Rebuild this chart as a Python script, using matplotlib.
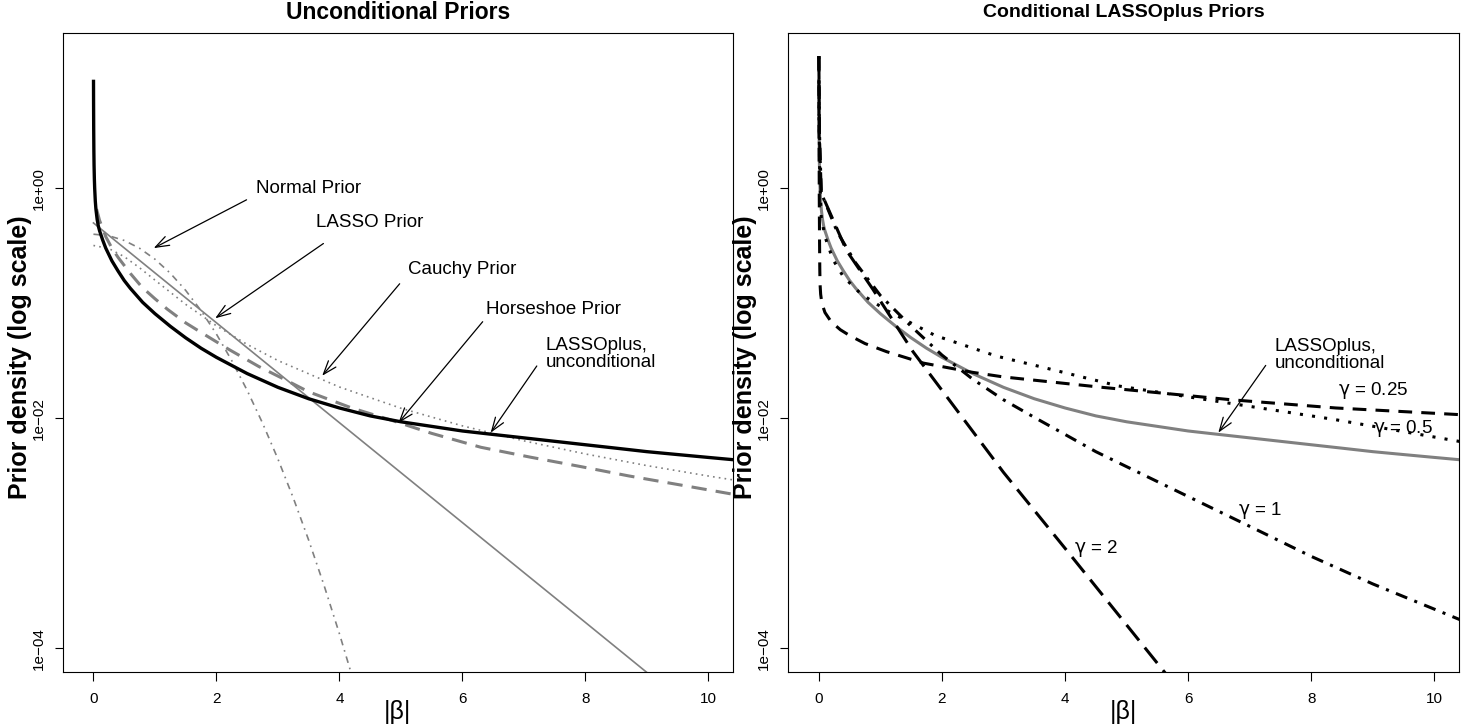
import numpy as np
import matplotlib.pyplot as plt
from matplotlib.ticker import NullLocator

plt.rcParams['font.family'] = ['Liberation Sans', 'DejaVu Sans']

# ---- left panel: unconditional priors (|beta|, density) ----
x_lassoplus = [0.001, 0.002, 0.004, 0.007, 0.01, 0.015, 0.02, 0.03, 0.04, 0.06, 0.08, 0.1, 0.15,
               0.2, 0.3, 0.4, 0.5, 0.6, 0.8, 1.0, 1.25, 1.5, 1.75, 2.0, 2.5, 3.0, 3.5, 4.0, 4.5,
               5.0, 5.5, 6.0, 6.5, 7.0, 7.5, 8.0, 8.5, 9.0, 9.5, 10.0, 10.5]
d_lassoplus = [8.51, 5.62, 3.31, 2.09, 1.585, 1.202, 1.0, 0.776, 0.661, 0.537, 0.468, 0.427, 0.355,
               0.302, 0.234, 0.191, 0.158, 0.135, 0.102, 0.0813, 0.0631, 0.0501, 0.0407, 0.0339,
               0.0245, 0.0186, 0.0148, 0.0123, 0.0105, 0.00933, 0.00851, 0.00776, 0.00724, 0.00676,
               0.00631, 0.00589, 0.0055, 0.00513, 0.00484, 0.00457, 0.00432]

x_horseshoe = [0.05, 0.1, 0.2, 0.3, 0.4, 0.6, 0.79, 1.0, 1.2, 1.5, 1.77, 2.2, 2.69, 3.1, 3.5,
               4.2, 4.8, 5.5, 6.3, 7.1, 7.93, 8.7, 9.55, 10.5]
d_horseshoe = [0.66, 0.525, 0.38, 0.302, 0.251, 0.182, 0.138, 0.1096, 0.089, 0.0676, 0.055, 0.0398,
               0.0282, 0.0219, 0.017, 0.0123, 0.0098, 0.0074, 0.0056, 0.0046, 0.0038, 0.00316,
               0.00263, 0.00214]

x_normal = [0, 0.25, 0.5, 0.75, 1, 1.25, 1.5, 1.75, 2, 2.25, 2.5, 2.75, 3, 3.25, 3.5, 3.75, 4, 4.25, 4.5]
d_normal = [0.3989, 0.3867, 0.3521, 0.3011, 0.2420, 0.1826, 0.1295, 0.0863, 0.0540, 0.0317, 0.0175,
            0.00909, 0.00443, 0.00203, 0.000873, 0.000353, 0.000134, 0.0000479, 0.0000160]

x_lasso = [0, 1, 2, 3, 4, 5, 6, 7, 8, 9, 10, 10.5]
d_lasso = [0.5, 0.1839, 0.0677, 0.0249, 0.00916, 0.00337, 0.00124, 0.000456, 0.000168,
           0.0000617, 0.0000227, 0.0000138]

x_cauchy = [0, 0.25, 0.5, 0.75, 1, 1.5, 2, 2.5, 3, 4, 5, 6, 7, 8, 9, 10, 10.5]
d_cauchy = [0.3183, 0.2996, 0.2546, 0.2037, 0.1592, 0.0979, 0.0637, 0.0439, 0.0318, 0.01872,
            0.01224, 0.0086, 0.00637, 0.0049, 0.00388, 0.00315, 0.00286]

# ---- right panel: conditional LASSOplus priors ----
x_g025 = [0.001, 0.004, 0.008, 0.012, 0.016, 0.02, 0.03, 0.05, 0.1, 0.2, 0.35, 0.5, 0.75, 1.1,
          1.7, 2.5, 3.0, 4.6, 6.7, 8.4, 10.5]
d_g025 = [14.1, 3.16, 0.794, 0.355, 0.2, 0.148, 0.12, 0.1, 0.0832, 0.0692, 0.0589, 0.0525, 0.0447,
          0.038, 0.0302, 0.0251, 0.0229, 0.0186, 0.0145, 0.0123, 0.0107]

x_g05 = [0.001, 0.005, 0.015, 0.04, 0.1, 0.23, 0.4, 0.69, 1.1, 1.89, 2.89, 3.59, 4.87, 6.2, 8.36, 10.5]
d_g05 = [14.1, 3.98, 1.26, 0.562, 0.38, 0.24, 0.17, 0.12, 0.087, 0.0525, 0.0347, 0.0282,
         0.0191, 0.0148, 0.0098, 0.00617]

x_g1 = [0.001, 0.01, 0.04, 0.3, 0.6, 1.0, 1.5, 2.0, 2.5, 3.0, 3.5, 4.0, 4.5, 5.0, 6.0, 7.0,
        8.0, 9.0, 10.0, 10.5]
d_g1 = [14.1, 3.16, 0.912, 0.417, 0.224, 0.117, 0.0631, 0.0355, 0.0219, 0.0145, 0.0102, 0.00724,
        0.00513, 0.0038, 0.00209, 0.00115, 0.00063, 0.000363, 0.000219, 0.00017]

x_g2 = [0.001, 0.01, 0.04, 0.45, 0.88, 1.53, 3.0, 4.03, 5.53, 6.0]
d_g2 = [14.1, 2.82, 0.912, 0.288, 0.132, 0.038, 0.00339, 0.000708, 0.0000708, 0.0000347]

gray = '#808080'
ylim = (10 ** -4.206, 10 ** 1.35)

fig = plt.figure(figsize=(14.65, 7.28), dpi=100)
ax1 = fig.add_axes([0.0428, 0.0769, 0.4575, 0.8777])
ax2 = fig.add_axes([0.5379, 0.0769, 0.4580, 0.8777])

# left panel curves
ax1.plot(x_normal, d_normal, color=gray, lw=1.2, ls=(0, (4, 3, 1, 3)))
ax1.plot(x_lasso, d_lasso, color=gray, lw=1.2)
ax1.plot(x_cauchy, d_cauchy, color=gray, lw=1.2, ls=(0, (1, 2.5)))
ax1.plot(x_horseshoe, d_horseshoe, color=gray, lw=2.2, ls=(0, (5, 3)))
ax1.plot(x_lassoplus, d_lassoplus, color='black', lw=2.4)

# right panel curves
ax2.plot(x_lassoplus, d_lassoplus, color=gray, lw=2.2)
ax2.plot(x_g025, d_g025, color='black', lw=2.2, ls=(0, (4.5, 3)))
ax2.plot(x_g05, d_g05, color='black', lw=2.2, ls=(0, (1, 3)))
ax2.plot(x_g1, d_g1, color='black', lw=2.2, ls=(0, (4, 2.5, 1, 2.5)))
ax2.plot(x_g2, d_g2, color='black', lw=2.2, ls=(0, (6.5, 3)))

for ax in (ax1, ax2):
    ax.set_yscale('log')
    ax.set_xlim(-0.5, 10.4)
    ax.set_ylim(*ylim)
    ax.set_xticks([0, 2, 4, 6, 8, 10])
    ax.set_yticks([1e-4, 1e-2, 1])
    ax.set_yticklabels(['1e\u221204', '1e\u221202', '1e+00'], rotation=90, va='center')
    ax.yaxis.set_minor_locator(NullLocator())
    ax.tick_params(axis='x', length=6.5, width=0.8, labelsize=11, pad=8)
    ax.tick_params(axis='y', length=6, width=0.8, labelsize=11, pad=6)
    for sp in ax.spines.values():
        sp.set_linewidth(0.8)
    ax.text(0.5, -0.0626, '|\u03b2|', transform=ax.transAxes, ha='center', va='center', fontsize=18)
    ax.text(-0.0637, 0.493, 'Prior density (log scale)', transform=ax.transAxes, rotation=90,
            ha='center', va='center', fontsize=18, fontweight='bold')

ax1.text(0.5, 1.0329, 'Unconditional Priors', transform=ax1.transAxes, ha='center', va='center',
         fontsize=16.5, fontweight='bold')
ax2.text(0.5, 1.0329, 'Conditional LASSOplus Priors', transform=ax2.transAxes, ha='center',
         va='center', fontsize=14, fontweight='bold')

arrow = dict(arrowstyle='->,head_length=0.7,head_width=0.25', lw=0.9, color='black',
             shrinkA=0, shrinkB=0, mutation_scale=14)
fs = 13.5

# left annotations
ax1.text(3.5, 1.0, 'Normal Prior', ha='center', va='center', fontsize=fs)
ax1.annotate('', xy=(0.98, 10 ** -0.52), xytext=(2.49, 10 ** -0.10), arrowprops=arrow)
ax1.text(4.49, 10 ** -0.30, 'LASSO Prior', ha='center', va='center', fontsize=fs)
ax1.annotate('', xy=(1.98, 10 ** -1.13), xytext=(3.74, 10 ** -0.48), arrowprops=arrow)
ax1.text(6.0, 10 ** -0.71, 'Cauchy Prior', ha='center', va='center', fontsize=fs)
ax1.annotate('', xy=(3.72, 10 ** -1.63), xytext=(4.98, 10 ** -0.83), arrowprops=arrow)
ax1.text(7.48, 10 ** -1.05, 'Horseshoe Prior', ha='center', va='center', fontsize=fs)
ax1.annotate('', xy=(4.96, 10 ** -2.04), xytext=(6.33, 10 ** -1.16), arrowprops=arrow)
ax1.text(7.35, 10 ** -1.44, 'LASSOplus,\nunconditional', ha='left', va='center', fontsize=fs,
         linespacing=0.95)
ax1.annotate('', xy=(6.46, 10 ** -2.125), xytext=(7.21, 10 ** -1.545), arrowprops=arrow)

# right annotations
ax2.text(7.40, 10 ** -1.45, 'LASSOplus,\nunconditional', ha='left', va='center', fontsize=fs,
         linespacing=0.95)
ax2.annotate('', xy=(6.49, 10 ** -2.125), xytext=(7.26, 10 ** -1.54), arrowprops=arrow)
ax2.text(9.0, 10 ** -1.76, r'$\mathrm{\gamma}$ = 0.25', ha='center', va='center', fontsize=fs)
ax2.text(9.49, 10 ** -2.09, r'$\mathrm{\gamma}$ = 0.5', ha='center', va='center', fontsize=fs)
ax2.text(7.17, 10 ** -2.80, r'$\mathrm{\gamma}$ = 1', ha='center', va='center', fontsize=fs)
ax2.text(4.5, 10 ** -3.13, r'$\mathrm{\gamma}$ = 2', ha='center', va='center', fontsize=fs)

fig.savefig('out.png', dpi=100)
